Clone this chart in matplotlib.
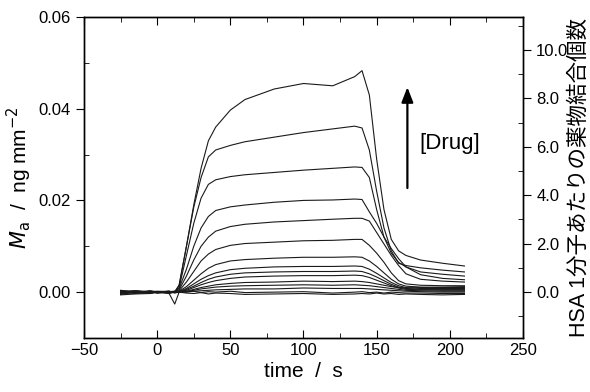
"""Sensorgram of drug binding to immobilised HSA (several drug concentrations)."""

import matplotlib

matplotlib.use("Agg")
import matplotlib.pyplot as plt
import numpy as np
from matplotlib.ticker import FormatStrFormatter, MultipleLocator

plt.rcParams["font.family"] = ["Liberation Sans", "Noto Sans CJK JP", "DejaVu Sans"]

# sample times (s)
time = [-25, -15, -5, 0, 8, 12, 15, 20, 25, 30, 35, 40, 50, 60, 80, 100,
        120, 135, 140, 145, 150, 155, 160, 165, 170, 180, 195, 210]

# adsorbed mass, in 1e-3 ng mm^-2, one list per drug concentration (high -> low)
mass_c1 = [0.1, -0.2, 0.2, 0.0, 0.1, 0.0, 1.5, 10.0, 19.0, 27.0, 33.0, 36.0, 39.7, 42.0,
           44.3, 45.5, 45.0, 47.0, 48.3, 43.0, 29.0, 18.0, 11.5, 9.0, 8.0, 7.0, 6.3, 5.7]
mass_c2 = [-0.2, 0.2, 0.0, 0.1, -0.1, 0.1, 1.5, 10.0, 18.5, 25.0, 29.5, 31.0, 32.0, 32.8,
           33.8, 34.8, 35.6, 36.2, 35.8, 31.0, 22.0, 14.0, 9.0, 6.3, 5.8, 5.3, 4.8, 4.4]
mass_c3 = [0.3, 0.0, -0.2, 0.0, 0.2, 0.0, 1.0, 8.0, 15.0, 20.5, 23.5, 24.5, 25.2, 25.6,
           26.1, 26.6, 27.0, 27.3, 27.2, 25.0, 18.0, 12.0, 8.5, 6.5, 5.5, 4.4, 3.9, 3.5]
mass_c4 = [0.0, 0.2, 0.1, -0.1, 0.0, 0.1, 0.8, 5.0, 10.0, 14.0, 16.5, 17.8, 18.6, 19.0,
           19.6, 20.0, 20.1, 20.3, 20.2, 17.5, 15.0, 12.0, 9.5, 7.3, 5.5, 3.8, 3.0, 2.7]
mass_c5 = [-0.3, 0.0, 0.2, 0.0, -0.2, 0.0, 0.5, 3.5, 7.0, 10.0, 12.0, 13.3, 14.3, 14.8,
           15.3, 15.6, 15.9, 16.1, 16.1, 15.5, 13.0, 10.5, 8.0, 5.8, 4.0, 2.8, 2.4, 2.2]
mass_c6 = [0.2, -0.1, 0.0, 0.2, 0.1, -0.1, 0.3, 2.2, 4.5, 6.8, 8.3, 9.3, 10.2, 10.6,
           10.9, 11.2, 11.3, 11.5, 11.5, 10.2, 8.5, 6.5, 4.2, 2.5, 1.8, 1.5, 1.4, 1.4]
mass_c7 = [-0.1, 0.3, 0.1, -0.2, 0.0, 0.2, 0.2, 1.2, 2.6, 4.0, 5.2, 6.0, 6.8, 7.1,
           7.4, 7.6, 7.6, 7.7, 7.6, 6.8, 5.6, 4.2, 2.8, 1.8, 1.3, 1.1, 1.0, 1.0]
mass_c8 = [0.4, 0.0, -0.3, 0.1, 0.2, 0.0, 0.1, 0.8, 1.8, 2.8, 3.6, 4.2, 4.9, 5.2,
           5.5, 5.6, 5.6, 5.7, 5.6, 5.0, 4.1, 3.1, 2.1, 1.4, 1.0, 0.8, 0.8, 0.8]
mass_c9 = [0.0, -0.3, 0.2, 0.0, -0.1, 0.1, 0.0, 0.6, 1.3, 2.1, 2.8, 3.3, 3.9, 4.2,
           4.4, 4.5, 4.5, 4.6, 4.5, 4.0, 3.3, 2.5, 1.7, 1.1, 0.8, 0.6, 0.6, 0.6]
mass_c10 = [-0.4, 0.1, 0.0, -0.1, 0.2, -0.2, 0.0, 0.4, 1.0, 1.6, 2.1, 2.5, 3.0, 3.3,
            3.5, 3.6, 3.6, 3.7, 3.6, 3.2, 2.6, 2.0, 1.4, 0.9, 0.6, 0.5, 0.4, 0.4]
mass_c11 = [0.2, 0.3, -0.1, 0.0, 0.0, 0.1, 0.0, 0.2, 0.6, 1.0, 1.3, 1.6, 1.9, 2.1,
            2.2, 2.4, 2.3, 2.4, 2.3, 2.1, 1.8, 1.5, 1.2, 1.0, 0.9, 1.0, 1.1, 1.2]
mass_c12 = [-0.2, -0.1, 0.3, 0.1, -0.3, 0.0, 0.0, 0.1, 0.4, 0.7, 0.9, 1.1, 1.3, 1.4,
            1.5, 1.6, 1.5, 1.6, 1.5, 1.4, 1.2, 1.0, 0.8, 0.6, 0.4, 0.3, 0.2, 0.2]
mass_c13 = [0.3, -0.2, -0.2, 0.0, 0.1, 0.2, 0.0, 0.1, 0.2, 0.3, 0.4, 0.5, 0.6, 0.7,
            0.7, 0.9, 0.8, 0.8, 0.8, 0.7, 0.6, 0.5, 0.4, 0.3, 0.2, 0.1, 0.0, 0.0]
mass_c14 = [-0.5, 0.1, 0.1, -0.2, 0.0, -0.1, 0.1, 0.0, 0.2, -0.1, 0.1, 0.0, 0.2, -0.1,
            0.0, 0.1, -0.2, 0.0, 0.1, -0.1, 0.0, -0.2, 0.0, -0.1, -0.2, -0.2, -0.3, -0.3]
mass_c15 = [-0.6, -0.4, -0.3, 0.0, -0.2, -2.6, 0.0, -0.2, -0.3, -0.1, -0.4, -0.2, -0.3, -0.5,
            -0.4, -0.3, -0.5, -0.4, -0.3, -0.4, -0.2, -0.4, -0.3, -0.5, -0.4, -0.5, -0.6, -0.5]

MASS_SERIES = [mass_c1, mass_c2, mass_c3, mass_c4, mass_c5, mass_c6, mass_c7, mass_c8,
               mass_c9, mass_c10, mass_c11, mass_c12, mass_c13, mass_c14, mass_c15]

# arrow marking increasing drug concentration
arrow_time = 171
arrow_from = 0.0227
arrow_to = 0.0447
label_time = 179
label_mass = 0.0325


def main() -> None:
    fig = plt.figure(figsize=(5.9, 3.92), dpi=100)
    ax = fig.add_axes([0.1424, 0.1378, 0.744, 0.8188])

    for series in MASS_SERIES:
        ax.plot(time, np.array(series) * 1e-3, color="#1a1a1a", lw=0.8)

    ax.annotate("", xy=(arrow_time, arrow_to), xytext=(arrow_time, arrow_from),
                arrowprops=dict(arrowstyle="-|>,head_length=0.9,head_width=0.35",
                                color="black", lw=1.6, shrinkA=0, shrinkB=0))
    ax.text(label_time, label_mass, "[Drug]", fontsize=16, va="center", ha="left")

    ax.set_xlim(-50, 250)
    ax.set_ylim(-0.01, 0.06)
    ax.xaxis.set_major_locator(MultipleLocator(50))
    ax.xaxis.set_minor_locator(MultipleLocator(25))
    ax.yaxis.set_major_locator(MultipleLocator(0.02))
    ax.yaxis.set_minor_locator(MultipleLocator(0.01))
    ax.yaxis.set_major_formatter(FormatStrFormatter("%.2f"))
    ax.tick_params(axis="x", which="both", direction="in", top=True, labelsize=12)
    ax.tick_params(axis="x", which="major", length=6)
    ax.tick_params(axis="x", which="minor", length=3.5)
    ax.tick_params(axis="y", which="major", direction="out", length=6, labelsize=12)
    ax.tick_params(axis="y", which="minor", direction="in", length=3.5)
    ax.set_xlabel("time  /  s", fontsize=15, labelpad=3)
    ax.set_ylabel(r"$\mathit{M}_{\mathrm{a}}$  /  ng mm$^{-2}$", fontsize=15, labelpad=3)

    right = ax.twinx()
    right.set_ylim(-1.9, 11.36)
    right.yaxis.set_major_locator(MultipleLocator(2))
    right.yaxis.set_minor_locator(MultipleLocator(1))
    right.yaxis.set_major_formatter(FormatStrFormatter("%.1f"))
    right.tick_params(axis="y", which="major", direction="out", length=6, labelsize=12)
    right.tick_params(axis="y", which="minor", direction="in", length=3.5)
    right.set_ylabel("HSA 1分子あたりの薬物結合個数", fontsize=15.5, labelpad=0)

    for spine in list(ax.spines.values()) + list(right.spines.values()):
        spine.set_linewidth(1.0)

    fig.savefig("out.png", dpi=100)


if __name__ == "__main__":
    main()
